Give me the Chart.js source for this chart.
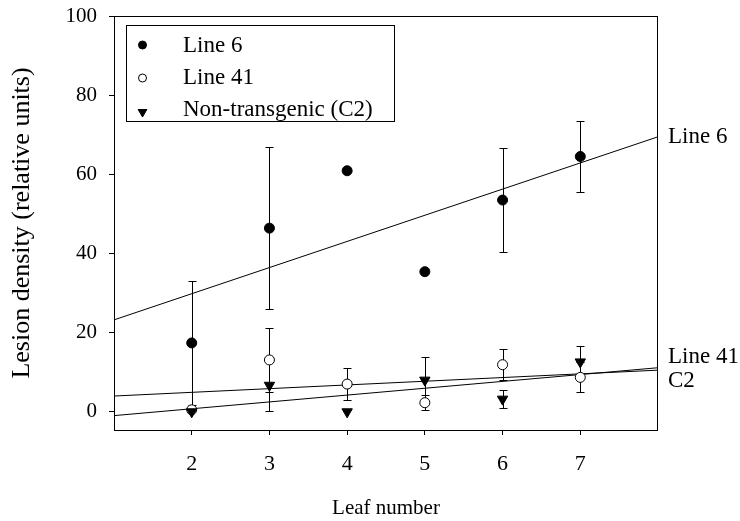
<!DOCTYPE html>
<html>
<head>
<meta charset="utf-8">
<title>Lesion density by leaf number</title>
<script src="https://cdn.jsdelivr.net/npm/chart.js@4/dist/chart.umd.min.js"></script>
<style>
  html, body { margin: 0; padding: 0; background: #fff; }
  canvas { display: block; }
</style>
</head>
<body>
<canvas id="chart" width="740" height="521"></canvas>
<script>
// Leaf positions sampled on each plant
const leafNumbers = [2, 3, 4, 5, 6, 7];

// Mean lesion density (relative units) and error half-widths per leaf
const line6Means   = [17.4, 46.4, 60.9, 35.4, 53.5, 64.5];
const line6Errors  = [15.7, 20.5, 0, 0, 13.2, 8.9];
const line41Means  = [0.5, 13.1, 7.0, 2.3, 11.9, 8.7];
const line41Errors = [0, 8.0, 4.1, 1.9, 3.9, 3.8];
const c2Means      = [0, 6.7, 0, 8.0, 3.2, 12.6];
const c2Errors     = [0, 6.4, 0, 5.9, 2.2, 4.1];

const seriesNames = ['Line 6', 'Line 41', 'Non-transgenic (C2)'];
const fitNames    = ['Line 6', 'Line 41', 'C2'];

const xTicks = [2, 3, 4, 5, 6, 7];
const yTicks = [0, 20, 40, 60, 80, 100];
const xRange = [1, 8];
const yRange = [-4.6, 100];

const FONT = '"Liberation Serif", "Times New Roman", Times, serif';
const INK = '#000';

// Least-squares straight line through one series, evaluated at the axis ends
function fitLine(xs, ys) {
  const n = xs.length;
  const mx = xs.reduce((a, b) => a + b, 0) / n;
  const my = ys.reduce((a, b) => a + b, 0) / n;
  let sxy = 0, sxx = 0;
  for (let i = 0; i < n; i++) {
    sxy += (xs[i] - mx) * (ys[i] - my);
    sxx += (xs[i] - mx) * (xs[i] - mx);
  }
  const slope = sxy / sxx;
  return xRange.map(x => ({ x, y: my + slope * (x - mx) }));
}

const toPoints = ys => leafNumbers.map((x, i) => ({ x, y: ys[i] }));

// order: lower numbers are painted last (on top)
const pointSets = [
  { label: seriesNames[0], data: toPoints(line6Means), errors: line6Errors, order: 0,
    pointStyle: 'circle', pointRadius: 5, backgroundColor: INK, borderColor: INK, rotation: 0, legendRadius: 4 },
  { label: seriesNames[1], data: toPoints(line41Means), errors: line41Errors, order: 2,
    pointStyle: 'circle', pointRadius: 5, backgroundColor: '#fff', borderColor: INK, rotation: 0, legendRadius: 4 },
  { label: seriesNames[2], data: toPoints(c2Means), errors: c2Errors, order: 1,
    pointStyle: 'triangle', pointRadius: 6, backgroundColor: INK, borderColor: INK, rotation: 180, legendRadius: 5 }
];

const fits = [fitLine(leafNumbers, line6Means), fitLine(leafNumbers, line41Means), fitLine(leafNumbers, c2Means)];

const datasets = pointSets.map(s => ({
  type: 'scatter',
  label: s.label,
  data: s.data,
  errors: s.errors,
  order: s.order,
  showLine: false,
  pointStyle: s.pointStyle,
  pointRadius: s.pointRadius,
  pointHoverRadius: s.pointRadius,
  pointRotation: s.rotation,
  backgroundColor: s.backgroundColor,
  borderColor: s.borderColor,
  pointBorderWidth: 1
})).concat(fits.map((pts, i) => ({
  type: 'line',
  label: fitNames[i] + ' fit',
  data: pts,
  order: 10,
  isFit: true,
  fitName: fitNames[i],
  borderColor: INK,
  borderWidth: 1,
  pointRadius: 0,
  fill: false,
  tension: 0
})));

// Vertical error bars with short caps, drawn under the markers
const errorBars = {
  id: 'errorBars',
  beforeDatasetsDraw(chart) {
    const { ctx, scales: { x, y } } = chart;
    ctx.save();
    ctx.strokeStyle = INK;
    ctx.lineWidth = 1;
    chart.data.datasets.forEach(ds => {
      if (!ds.errors) return;
      ds.data.forEach((p, i) => {
        const e = ds.errors[i];
        if (!e) return;
        const px = Math.round(x.getPixelForValue(p.x)) + 0.5;
        const top = Math.round(y.getPixelForValue(p.y + e)) + 0.5;
        const bot = Math.round(y.getPixelForValue(p.y - e)) + 0.5;
        ctx.beginPath();
        ctx.moveTo(px, top); ctx.lineTo(px, bot);
        ctx.moveTo(px - 4, top); ctx.lineTo(px + 4, top);
        ctx.moveTo(px - 4, bot); ctx.lineTo(px + 4, bot);
        ctx.stroke();
      });
    });
    ctx.restore();
  }
};

// White page, plot frame, boxed legend and the labels at the ends of the fitted lines
const decorations = {
  id: 'decorations',
  beforeDraw(chart) {
    const { ctx, width, height } = chart;
    ctx.save();
    ctx.fillStyle = '#fff';
    ctx.fillRect(0, 0, width, height);
    ctx.restore();
  },
  afterDraw(chart) {
    const { ctx, chartArea: a, scales: { y } } = chart;
    ctx.save();
    ctx.strokeStyle = INK;
    ctx.lineWidth = 1;
    ctx.strokeRect(Math.round(a.left) + 0.5, Math.round(a.top) + 0.5,
                   Math.round(a.right - a.left) - 1, Math.round(a.bottom - a.top));

    // legend box
    const lx = 126, ly = 25, lw = 268, lh = 96;
    ctx.strokeRect(lx + 0.5, ly + 0.5, lw, lh);
    ctx.font = '23px ' + FONT;
    ctx.textBaseline = 'alphabetic';
    ctx.textAlign = 'left';
    const rowBase = [52, 84, 116];
    const markY = [45, 78, 112];
    pointSets.forEach((s, i) => {
      ctx.fillStyle = s.backgroundColor;
      ctx.strokeStyle = s.borderColor;
      ctx.lineWidth = 1;
      Chart.helpers.drawPoint(ctx, {
        pointStyle: s.pointStyle,
        rotation: s.rotation,
        radius: s.legendRadius,
        borderWidth: 1
      }, 142.5, markY[i]);
      ctx.fillStyle = INK;
      ctx.fillText(s.label, 183, rowBase[i]);
    });

    // labels at the right-hand ends of the fitted lines
    const endDy = [6, -7, 19];
    ctx.fillStyle = INK;
    chart.data.datasets.filter(d => d.isFit).forEach((d, i) => {
      const end = d.data[d.data.length - 1];
      ctx.fillText(d.fitName, 668, y.getPixelForValue(end.y) + endDy[i]);
    });
    ctx.restore();
  }
};

new Chart(document.getElementById('chart'), {
  data: { datasets },
  options: {
    responsive: false,
    devicePixelRatio: 1,
    animation: false,
    events: [],
    layout: { padding: { top: 16, right: 82, bottom: 0, left: 0 } },
    plugins: { legend: { display: false }, tooltip: { enabled: false } },
    scales: {
      x: {
        type: 'linear',
        min: xRange[0],
        max: xRange[1],
        afterBuildTicks: s => { s.ticks = xTicks.map(v => ({ value: v })); },
        afterFit: s => { s.height = 91; s.paddingLeft = 0; s.paddingRight = 0; },
        grid: { drawOnChartArea: false, drawTicks: true, tickLength: 5, color: INK, lineWidth: 1 },
        border: { display: false },
        ticks: { color: INK, font: { family: FONT, size: 22 }, padding: 16, maxRotation: 0 },
        title: { display: true, text: 'Leaf number', color: INK,
                 font: { family: FONT, size: 21 }, padding: { top: 0, bottom: 0 } }
      },
      y: {
        type: 'linear',
        min: yRange[0],
        max: yRange[1],
        afterBuildTicks: s => { s.ticks = yTicks.map(v => ({ value: v })); },
        afterFit: s => { s.width = 114; s.paddingTop = 0; s.paddingBottom = 0; },
        grid: { drawOnChartArea: false, drawTicks: true, tickLength: 5, color: INK, lineWidth: 1 },
        border: { display: false },
        ticks: { color: INK, font: { family: FONT, size: 21 }, padding: 12 },
        title: { display: true, text: 'Lesion density (relative units)', color: INK,
                 font: { family: FONT, size: 26 }, padding: { top: 7, bottom: 0 } }
      }
    }
  },
  plugins: [errorBars, decorations]
});
</script>
</body>
</html>
